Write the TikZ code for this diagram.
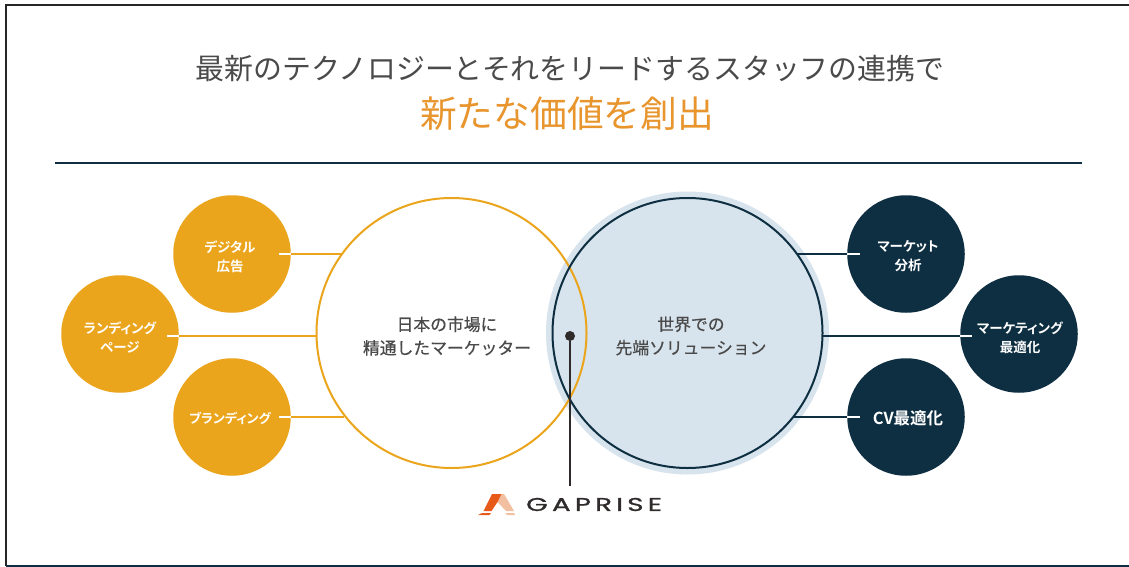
\documentclass[tikz,border=0pt]{standalone}
\usepackage{fontspec}
\setmainfont{Noto Sans CJK JP}
\newfontfamily\medfont[RawFeature=+palt]{Noto Sans CJK JP Bold}
\newfontfamily\bigfont[FakeBold=0.5]{Noto Sans CJK JP}
\newfontfamily\logofont[FakeBold=1]{Poppins}
\definecolor{amber}{HTML}{EBA51C}
\definecolor{navy}{HTML}{0E2F42}
\definecolor{pale}{HTML}{D8E4ED}
\definecolor{inktext}{HTML}{4A4A4A}
\definecolor{orangetitle}{HTML}{E8952E}
\definecolor{logodark}{HTML}{2F2B2B}
\definecolor{logohot}{HTML}{E85A1A}
\definecolor{logosoft}{HTML}{F2BFA0}
\tikzset{
  amberdot/.style={circle,fill=amber,minimum size=117.5pt,inner sep=0pt},
  navydot/.style={circle,fill=navy,minimum size=117.5pt,inner sep=0pt},
  dotlabel/.style={align=center,text=white,inner sep=0pt,font=\medfont\fontsize{13.5}{19}\selectfont},
  bigtext/.style={align=center,text=inktext,font=\bigfont\fontsize{16.8}{23.5}\selectfont},
  amberline/.style={draw=amber,line width=1.8pt},
  navyline/.style={draw=navy,line width=1.8pt},
  whitestub/.style={draw=white,line width=1.8pt},
  bigcircle/.style={circle,minimum size=270pt,inner sep=0pt,line width=2pt},
}
\begin{document}
\begin{tikzpicture}[x=1pt,y=-1pt]
\useasboundingbox (0,0) rectangle (1129,567);
\fill[white] (0,0) rectangle (1129,567);
\draw[black!85,line width=1.6pt] (1135,5) -- (6,5) -- (6,566);
\draw[navy,line width=1.6pt] (6,566) -- (1135,566);
\node[font=\fontsize{28.9}{32}\selectfont,text=inktext,inner sep=0pt] (title) at (570,69) {最新のテクノロジーとそれをリードするスタッフの連携で};
\node[font=\fontsize{36.7}{40}\selectfont,text=orangetitle,inner sep=0pt] (sub) at (567,114) {新たな価値を創出};
\coordinate (ruleL) at (55,163);
\coordinate (ruleR) at (1082,163);
\draw[navy,line width=1.4pt] (ruleL) -- (ruleR);
\node[circle,fill=pale,minimum size=283pt,inner sep=0pt] (halo) at (687.5,333) {};
\node[bigcircle,draw=amber] (jp) at (451.5,333) {};
\node[bigcircle,draw=navy] (world) at (687.5,333) {};
\node[amberdot] (a1) at (232,254) {};
\node[amberdot] (a2) at (120,334) {};
\node[amberdot] (a3) at (232,417) {};
\node[navydot] (n1) at (906,254) {};
\node[navydot] (n2) at (1019,334) {};
\node[navydot] (n3) at (906,417) {};
\coordinate (a1e) at (279,254); \coordinate (a2e) at (167,336); \coordinate (a3e) at (279,417);
\coordinate (n1e) at (860,254); \coordinate (n2e) at (972,336); \coordinate (n3e) at (860,417);
\coordinate (j1) at (342.5,254); \coordinate (j2) at (317,336); \coordinate (j3) at (344,417);
\coordinate (w1) at (797,254); \coordinate (w2) at (823,336); \coordinate (w3) at (793,417);
\draw[amberline] (a1.east |- a1e) -- (j1);
\draw[amberline] (a2.east |- a2e) -- (j2);
\draw[amberline] (a3.east |- a3e) -- (j3);
\draw[navyline] (w1) -- (n1.west |- n1e);
\draw[navyline] (w2) -- (n2.west |- n2e);
\draw[navyline] (w3) -- (n3.west |- n3e);
\draw[whitestub] (a1e) -- (a1.east |- a1e);
\draw[whitestub] (a2e) -- (a2.east |- a2e);
\draw[whitestub] (a3e) -- (a3.east |- a3e);
\draw[whitestub] (n1e) -- (n1.west |- n1e);
\draw[whitestub] (n2e) -- (n2.west |- n2e);
\draw[whitestub] (n3e) -- (n3.west |- n3e);
\node[dotlabel] (a1t) at (230,256.5) {デジタル\\広告};
\node[dotlabel] (a2t) at (120,337) {ランディング\\ページ};
\node[dotlabel,font=\medfont\fontsize{13}{19}\selectfont] (a3t) at (230,418) {ブランディング};
\node[dotlabel] (n1t) at (908,256.5) {マーケット\\分析};
\node[dotlabel] (n2t) at (1020,338) {マーケティング\\最適化};
\node[dotlabel,font=\medfont\fontsize{16.5}{19}\selectfont] (n3t) at (908,418) {CV最適化};
\node[bigtext] (jpl) at (447,336) {日本の市場に\\精通したマーケッター};
\node[bigtext] (wl) at (691,336) {世界での\\先端ソリューション};
\node[circle,fill=logodark,minimum size=10pt,inner sep=0pt] (dot) at (570,336) {};
\coordinate (ptr) at (570,486);
\draw[logodark,line width=1.8pt] (dot) -- (ptr);
\fill[logosoft] (501.5,494) -- (504,494) -- (514,511) -- (506,511) -- (497.5,502) -- cycle;
\fill[logosoft] (505,513) -- (514,513) -- (515,515) -- (507,515) -- cycle;
\fill[logohot] (492,494) -- (501.5,494) -- (497.5,502) -- (491.5,511) -- (483.5,511) -- cycle;
\fill[logohot] (482,513) -- (491,513) -- (489.5,515) -- (478,515) -- cycle;
\node[font=\logofont\fontsize{18.5}{22}\selectfont,text=logodark,inner sep=0pt,anchor=west] (logo) at (526,504.5) {\scalebox{1.5}[1]{G\kern2.8pt A\kern2.8pt P\kern2.8pt R\kern2.8pt I\kern2.8pt S\kern2.8pt E}};
\end{tikzpicture}
\end{document}
